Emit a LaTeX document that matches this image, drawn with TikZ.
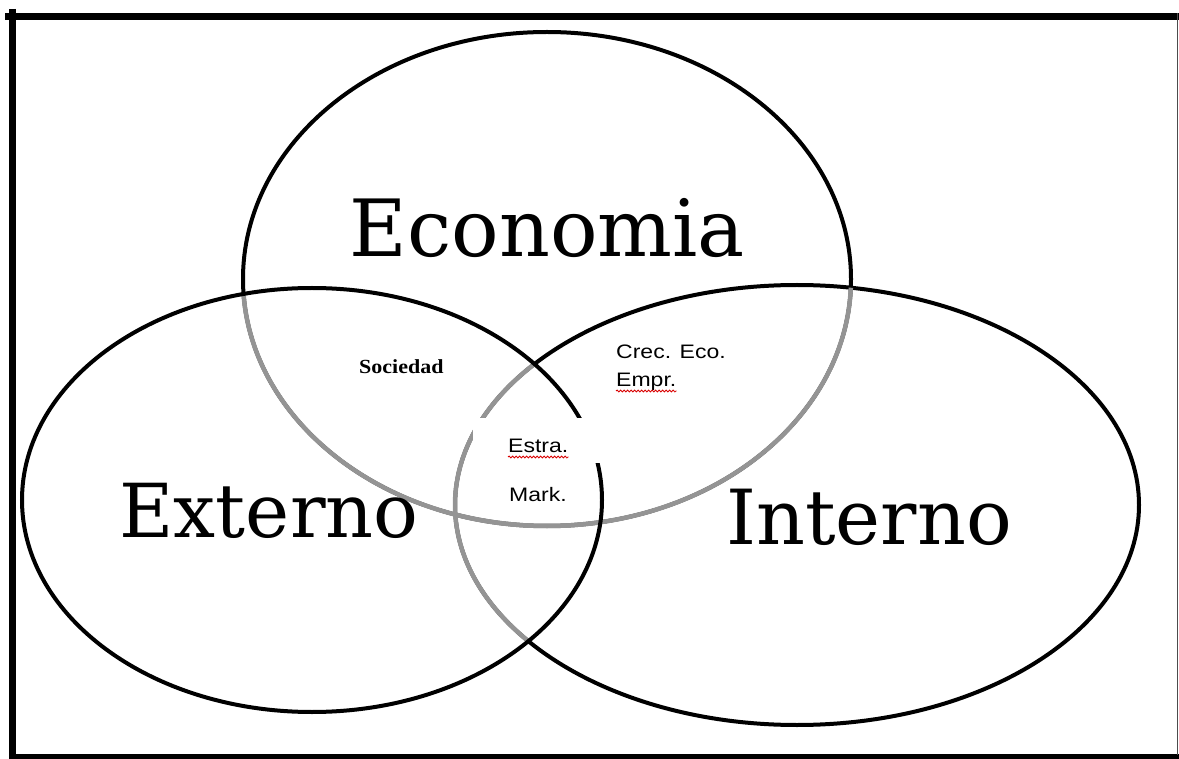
\documentclass[tikz,border=0pt]{standalone}
\usepackage{fontspec}
\setmainfont{DejaVu Serif}
\newfontfamily\smallsans[FakeStretch=1.18]{Liberation Sans}
\newfontfamily\smallserif[FakeStretch=1.1]{Liberation Serif}
\usetikzlibrary{decorations.pathmorphing}

\begin{document}
\begin{tikzpicture}[x=1pt,y=-1pt,
  ring/.style={line width=4pt,black},
  faded/.style={line width=4.5pt,black!42},
  big/.style={inner sep=0pt,anchor=base,font=\fontsize{76}{90}\selectfont},
  small/.style={inner sep=0pt,anchor=base west,font=\smallsans\fontsize{19.5}{22}\selectfont},
  squiggle/.style={red!85!black,line width=0.8pt,decorate,
    decoration={snake,amplitude=1pt,segment length=3.5pt}}]
\useasboundingbox (0,0) rectangle (1179,759);
% frame
\draw[line width=7pt] (5,16.5) -- (1179,16.5);
\draw[line width=7pt] (12.5,9) -- (12.5,759);
\draw[line width=7pt] (9,757.5) -- (1179,757.5);
\draw[line width=1.8pt,black!70] (1177.5,13) -- (1177.5,755);
% the three sets
\coordinate (eco) at (547,279);
\coordinate (ext) at (312,500);
\coordinate (int) at (797,505);
\draw[ring] (eco) ellipse [x radius=304,y radius=247];
\draw[ring] (int) ellipse [x radius=342,y radius=220];
\begin{scope}
  \clip (ext) ellipse [x radius=290,y radius=212];
  \draw[faded] (eco) ellipse [x radius=304,y radius=247];
  \draw[faded] (int) ellipse [x radius=342,y radius=220];
\end{scope}
\begin{scope}
  \clip (int) ellipse [x radius=342,y radius=220];
  \draw[faded] (eco) ellipse [x radius=304,y radius=247];
\end{scope}
\draw[ring] (ext) ellipse [x radius=290,y radius=212];
% labels
\node[fill=white,minimum width=127pt,minimum height=45pt,inner sep=0pt] (gap) at (536.5,440.5) {};
\node[big,font=\fontsize{79}{90}\selectfont] (economia) at (547.5,257) {Economia};
\node[big,font=\fontsize{74.5}{90}\selectfont] (externo) at (269,537) {Externo};
\node[big] (interno) at (869,544) {Interno};
\node[inner sep=0pt,anchor=base west,font=\smallserif\bfseries\fontsize{20}{24}\selectfont] (sociedad) at (359,374) {Sociedad};
\node[small] (crec) at (616,359) {Crec. Eco.};
\node[small] (empr) at (616,387) {Empr.};
\node[small] (estra) at (508,453) {Estra.};
\node[small] (mark) at (509,501) {Mark.};
\draw[squiggle] ([yshift=-4pt]estra.base west) -- ([yshift=-4pt]estra.base east);
\draw[squiggle] ([yshift=-4pt]empr.base west) -- ([yshift=-4pt]empr.base east);
\end{tikzpicture}
\end{document}
